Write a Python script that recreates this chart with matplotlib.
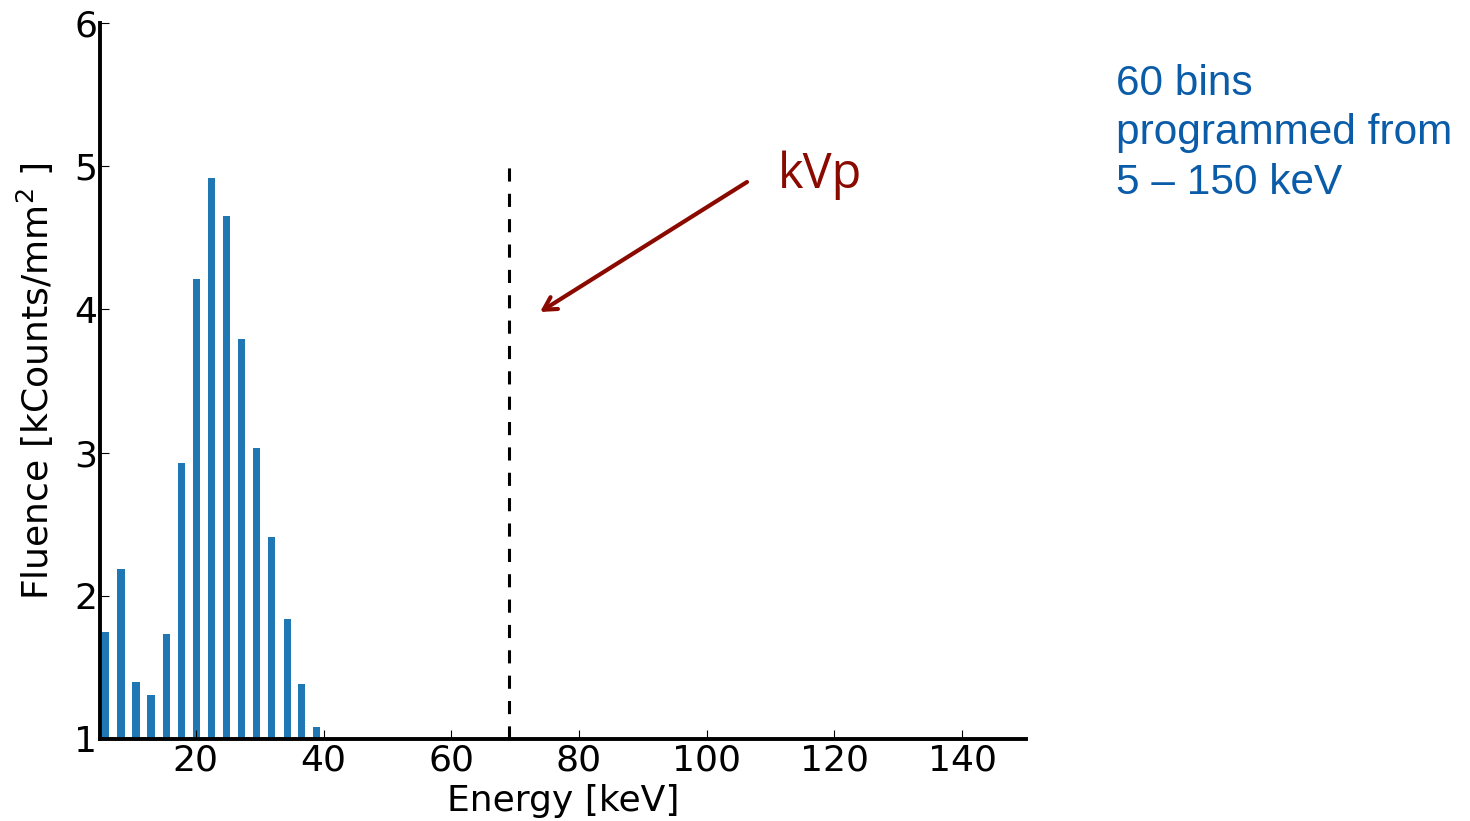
import numpy as np
import matplotlib.pyplot as plt

# spectrum bins (left edge, keV) and fluence (kCounts/mm^2)
bin_left = [5.3, 7.7, 10.05, 12.4, 14.8, 17.15, 19.5, 21.85, 24.2, 26.6,
            28.95, 31.3, 33.75, 36.0, 38.35]
fluence = [1.75, 2.19, 1.40, 1.31, 1.73, 2.93, 4.21, 4.92, 4.65, 3.79,
           3.03, 2.41, 1.84, 1.38, 1.08]
bar_w = 1.15
kvp = 69.0
xticks = [20, 40, 60, 80, 100, 120, 140]
yticks = [1, 2, 3, 4, 5, 6]

plt.rcParams['font.family'] = ['DejaVu Sans']

fig = plt.figure(figsize=(14.7, 8.21), dpi=100)
ax = fig.add_axes([0.068, 0.1, 0.63, 0.872])

ax.bar(bin_left, fluence, width=bar_w, align='edge', color='#1f77b4')
ax.plot([kvp, kvp], [1, 5], color='black', lw=2.2, dashes=(4.3, 4))

ax.set_xlim(5, 150)
ax.set_ylim(1, 6)
ax.set_xticks(xticks)
ax.set_yticks(yticks)

for s in ['top', 'right']:
    ax.spines[s].set_visible(False)
for s in ['left', 'bottom']:
    ax.spines[s].set_linewidth(2.8)
ax.tick_params(direction='in', length=6.5, width=0.8, labelsize=26, pad=3)
ax.tick_params(axis='y', pad=2)

ax.set_xlabel('Energy [keV]', fontsize=26, labelpad=5)
ax.set_ylabel('Fluence [kCounts/mm$^2$ ]', fontsize=26, labelpad=13)

# kVp annotation
fig.text(778 / 1470, 1 - 188 / 821, 'kVp', color='#8b0a00', fontsize=35,
         family='Open Sans', va='baseline')
ax.annotate('', xy=(540 / 1470, 1 - 312 / 821), xycoords='figure fraction',
            xytext=(747 / 1470, 1 - 182 / 821), textcoords='figure fraction',
            arrowprops=dict(arrowstyle='->, head_length=0.9, head_width=0.5',
                            color='#8b0a00', lw=3, shrinkA=0, shrinkB=0))

fig.text(1116 / 1470, 1 - 64 / 821, '60 bins\nprogrammed from\n5 \u2013 150 keV',
         color='#0b5ca8', fontsize=30.5, family='Liberation Sans', va='top',
         linespacing=1.3)

fig.savefig('out.png', dpi=100)
